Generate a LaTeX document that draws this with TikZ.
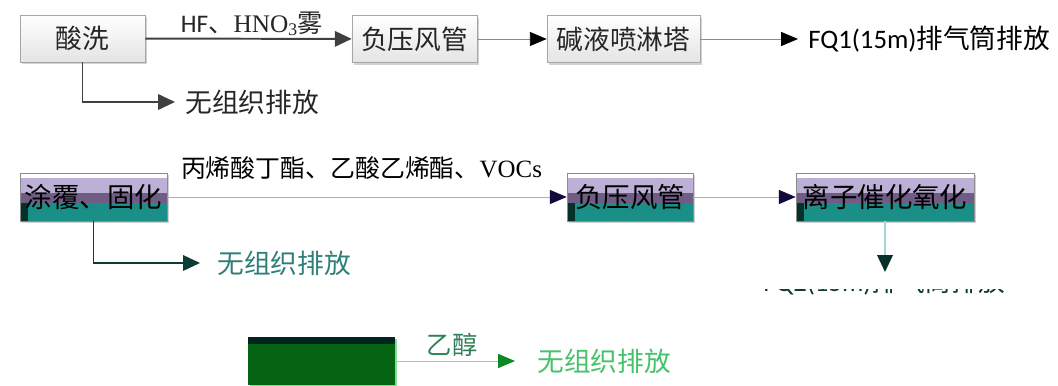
\documentclass[tikz,border=0pt]{standalone}
\usepackage{fontspec}
\setmainfont{Noto Sans CJK SC}
\newfontfamily\latinserif{Liberation Serif}
\newfontfamily\latinsans{Carlito}
\usepackage{tikz}
\usetikzlibrary{calc,positioning,arrows.meta,shadows}

\definecolor{boxline}{HTML}{A6A6A6}
\definecolor{boxgray}{HTML}{E4E4E4}
\definecolor{flowgray}{HTML}{404040}
\definecolor{lavender}{HTML}{BDB0D6}
\definecolor{darkpurple}{HTML}{6F5D86}
\definecolor{tealfill}{HTML}{1A8F88}
\definecolor{darkteal}{HTML}{06302A}
\definecolor{purpleline}{HTML}{B2A6D2}
\definecolor{navytip}{HTML}{120A3A}
\definecolor{dropteal}{HTML}{0C3C36}
\definecolor{textteal}{HTML}{2E7F78}
\definecolor{paleteal}{HTML}{A6D6D2}
\definecolor{darkgreen}{HTML}{056414}
\definecolor{stripgreen}{HTML}{03241E}
\definecolor{palegreen}{HTML}{80E090}
\definecolor{tipgreen}{HTML}{0B8A23}
\definecolor{textgreen}{HTML}{44C26A}
\definecolor{labelgreen}{HTML}{2E7F56}

\begin{document}
\begin{tikzpicture}[x=0.025cm, y=-0.025cm, font=\fontsize{19pt}{22pt}\selectfont,
    graybox/.style={draw=boxline, top color=white, bottom color=boxgray, minimum height=1.175cm, inner sep=0pt, text=black!85,
                    drop shadow={shadow xshift=1.5pt, shadow yshift=-1.5pt, fill=black!35}},
    tealbox/.style={draw=black!45, fill=tealfill, minimum height=1.2cm, inner sep=0pt, font=\fontsize{19.5pt}{22pt}\selectfont,
                    drop shadow={shadow xshift=1.5pt, shadow yshift=-1.5pt, fill=black!35},
                    path picture={
                      \fill[white] (path picture bounding box.north west) rectangle ([yshift=-3.6pt]path picture bounding box.north east);
                      \fill[lavender] ([yshift=-3.6pt]path picture bounding box.north west) rectangle ([yshift=-14.2pt]path picture bounding box.north east);
                      \fill[darkpurple] ([yshift=-14.2pt]path picture bounding box.north west) rectangle ([yshift=-21.3pt]path picture bounding box.north east);
                      \fill[darkteal] ([yshift=-21.3pt]path picture bounding box.north west) rectangle ([xshift=5.7pt]path picture bounding box.south west);
                    }},
    greenbox/.style={fill=darkgreen, minimum height=1.2cm, inner sep=0pt,
                     drop shadow={shadow xshift=1.5pt, shadow yshift=-1.5pt, fill=palegreen, opacity=1},
                     path picture={\fill[stripgreen] (path picture bounding box.north west) rectangle ([yshift=-5pt]path picture bounding box.north east);}},
    thickflow/.style={draw=flowgray, line width=1.4pt, -{Triangle[length=12pt,width=11pt,color=flowgray]}},
    thinflow/.style={draw=black!45, line width=0.6pt, -{Triangle[length=12pt,width=10pt,color=black]}},
    purpleflow/.style={draw=purpleline, line width=0.7pt, -{Triangle[length=12pt,width=10pt,color=navytip]}},
    tealflow/.style={draw=dropteal, line width=1.3pt, -{Triangle[length=12pt,width=11pt,color=dropteal]}},
    paleflow/.style={draw=paleteal, line width=1.4pt, -{Triangle[length=12pt,width=11pt,color=darkteal]}},
    greenflow/.style={draw=palegreen, line width=0.7pt, -{Triangle[length=12pt,width=10pt,color=tipgreen]}},
    outtext/.style={anchor=west, inner sep=0pt}]
\useasboundingbox (0,0) rectangle (1058,386);

\node[graybox, minimum width=3.125cm] (suanxi) at (82.5,38.5) {酸洗};
\node[graybox, minimum width=3.125cm] (fengguan1) at (414.5,39) {负压风管};
\node[graybox, minimum width=3.825cm] (penlin) at (623.5,39) {碱液喷淋塔};
\node[outtext, text=black] (fq1) at (808,39) {{\latinsans FQ1(15m)}排气筒排放};
\node[outtext, text=black!85] (wuzuzhi1) at (185,102) {无组织排放};
\node[inner sep=0pt, font=\fontsize{18pt}{20pt}\selectfont, text=black!85] (hf) at (252,24) {{\latinsans HF}、{\latinserif HNO\textsubscript{3}}雾};
\draw[thickflow] (suanxi) -- (fengguan1);
\draw[thickflow] (suanxi.south) -- (suanxi.south |- wuzuzhi1) -- ($(wuzuzhi1.west)+(-10,0)$);
\draw[thinflow] (fengguan1) -- (penlin);
\draw[thinflow] (penlin) -- ($(fq1.west)+(-10,0)$);

\node[tealbox, minimum width=3.675cm] (tufu) at (93.5,197) {涂覆、固化};
\node[tealbox, minimum width=3.15cm] (fengguan2) at (630,197) {负压风管};
\node[tealbox, minimum width=4.45cm] (lizi) at (885,197) {离子催化氧化};
\node[inner sep=0pt, font=\fontsize{17.7pt}{20pt}\selectfont] (voc) at (361.5,168) {丙烯酸丁酯、乙酸乙烯酯、{\latinserif VOCs}};
\node[outtext, text=textteal] (wuzuzhi2) at (217,263) {无组织排放};
\coordinate (fq2top) at (885,272);
\draw[purpleflow] (tufu) -- (fengguan2);
\draw[purpleflow] (fengguan2) -- (lizi);
\draw[tealflow] (tufu.south) -- (tufu.south |- wuzuzhi2) -- ($(wuzuzhi2.west)+(-17,0)$);
\draw[paleflow] (lizi) -- (fq2top);
\begin{scope}
\clip (740,290) rectangle (1058,300);
\node[outtext, text=dropteal] (fq2) at (763,282) {{\latinsans FQ2(15m)}排气筒排放};
\end{scope}

\node[greenbox, minimum width=3.675cm] (blank) at (321.5,361) {};
\node[outtext, text=textgreen] (wuzuzhi3) at (537,361) {无组织排放};
\node[inner sep=0pt, font=\fontsize{18pt}{20pt}\selectfont, text=labelgreen] (yichun) at (452,345) {乙醇};
\draw[greenflow] (blank) -- ($(wuzuzhi3.west)+(-22,0)$);
\end{tikzpicture}
\end{document}
